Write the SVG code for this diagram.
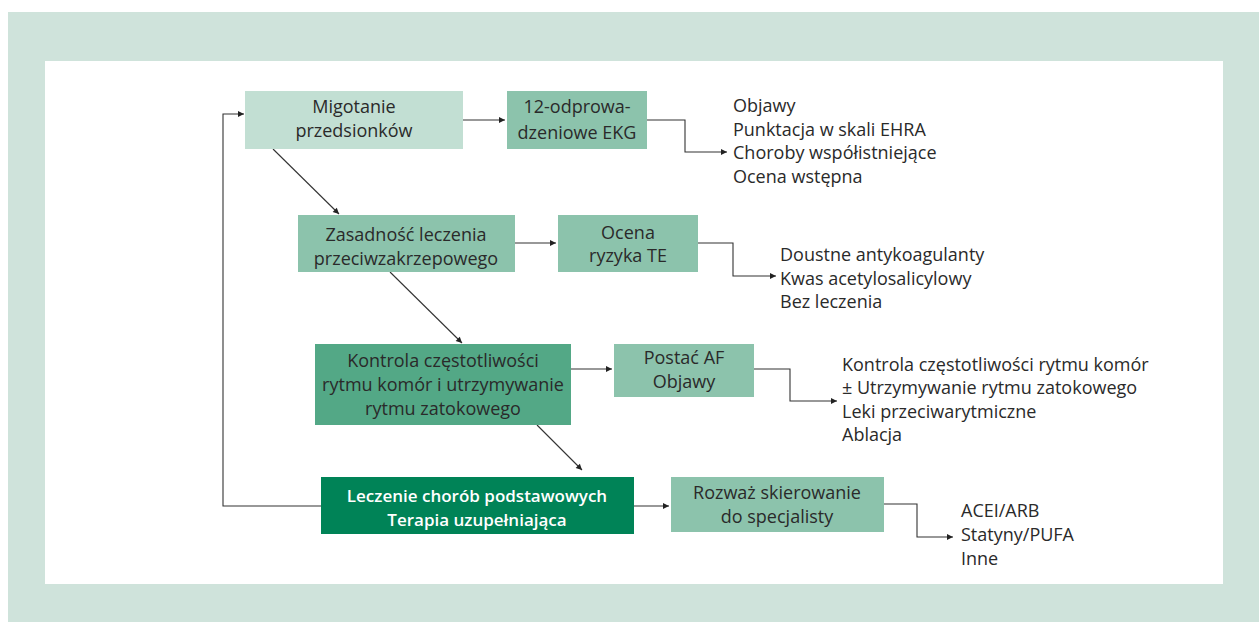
<svg xmlns="http://www.w3.org/2000/svg" width="1259" height="622" viewBox="0 0 1259 622">
<defs>
<style>
text{font-family:"Open Sans","Noto Sans","Liberation Sans",sans-serif;font-size:18px;fill:#2a2a2a}
.c{text-anchor:middle}
.w{fill:#ffffff;font-weight:600;font-size:17px}
.ln{fill:none;stroke:#333;stroke-width:1.1}
.l1{fill:#c2dfd3}
.l2{fill:#8cc3ac}
.l3{fill:#53a886}
.l4{fill:#008357}
</style>
<marker id="ah" viewBox="0 0 10 10" refX="10" refY="5" markerWidth="9" markerHeight="6" markerUnits="userSpaceOnUse" orient="auto">
<path d="M0,0 L10,5 L0,10 z" fill="#222"/>
</marker>
</defs>
<rect x="8" y="12" width="1251" height="610" fill="#cfe3db"/>
<rect x="45" y="61" width="1178" height="523" fill="#ffffff"/>

<g id="connectors">
<path class="ln" d="M463,120 H505" marker-end="url(#ah)"/>
<path class="ln" d="M647,120 H685 V152 H727" marker-end="url(#ah)"/>
<path class="ln" d="M273,149 L339,214" marker-end="url(#ah)"/>
<path class="ln" d="M515,243 H556" marker-end="url(#ah)"/>
<path class="ln" d="M698,243 H733 V276 H776" marker-end="url(#ah)"/>
<path class="ln" d="M390,272 L462,343" marker-end="url(#ah)"/>
<path class="ln" d="M571,369 H612" marker-end="url(#ah)"/>
<path class="ln" d="M754,369 H790 V401 H837" marker-end="url(#ah)"/>
<path class="ln" d="M537,425 L582,470" marker-end="url(#ah)"/>
<path class="ln" d="M634,506 H669" marker-end="url(#ah)"/>
<path class="ln" d="M884,504 H917 V537 H953" marker-end="url(#ah)"/>
<path class="ln" d="M321,506 H223 V114 H244" marker-end="url(#ah)"/>
</g>

<g id="n1">
<rect class="l1" x="245" y="91" width="218" height="58"/>
<text class="c" x="354" y="113">Migotanie</text>
<text class="c" x="354" y="137">przedsionków</text>
</g>
<g id="n2">
<rect class="l2" x="507" y="91" width="140" height="58"/>
<text class="c" x="577" y="113">12-odprowa-</text>
<text class="c" x="577" y="139">dzeniowe EKG</text>
</g>
<g id="n3">
<text x="733" y="112">Objawy</text>
<text x="733" y="136">Punktacja w skali EHRA</text>
<text x="733" y="159">Choroby współistniejące</text>
<text x="733" y="183">Ocena wstępna</text>
</g>
<g id="n4">
<rect class="l2" x="298" y="215" width="217" height="57"/>
<text class="c" x="406" y="241">Zasadność leczenia</text>
<text class="c" x="406" y="265">przeciwzakrzepowego</text>
</g>
<g id="n5">
<rect class="l2" x="558" y="215" width="140" height="57"/>
<text class="c" x="628" y="239">Ocena</text>
<text class="c" x="628" y="262">ryzyka TE</text>
</g>
<g id="n6">
<text x="780" y="261">Doustne antykoagulanty</text>
<text x="780" y="285">Kwas acetylosalicylowy</text>
<text x="780" y="308">Bez leczenia</text>
</g>
<g id="n7">
<rect class="l3" x="315" y="344" width="256" height="81"/>
<text class="c" x="443" y="367">Kontrola częstotliwości</text>
<text class="c" x="443" y="391">rytmu komór i utrzymywanie</text>
<text class="c" x="443" y="415">rytmu zatokowego</text>
</g>
<g id="n8">
<rect class="l2" x="614" y="344" width="140" height="53"/>
<text class="c" x="684" y="364">Postać AF</text>
<text class="c" x="684" y="388">Objawy</text>
</g>
<g id="n9">
<text x="842" y="371">Kontrola częstotliwości rytmu komór</text>
<text x="842" y="394">± Utrzymywanie rytmu zatokowego</text>
<text x="842" y="418">Leki przeciwarytmiczne</text>
<text x="842" y="441">Ablacja</text>
</g>
<g id="n10">
<rect class="l4" x="321" y="477" width="313" height="57"/>
<text class="c w" x="477" y="502">Leczenie chorób podstawowych</text>
<text class="c w" x="477" y="526">Terapia uzupełniająca</text>
</g>
<g id="n11">
<rect class="l2" x="671" y="477" width="213" height="55"/>
<text class="c" x="777" y="499">Rozważ skierowanie</text>
<text class="c" x="777" y="523">do specjalisty</text>
</g>
<g id="n12">
<text x="961" y="517">ACEI/ARB</text>
<text x="961" y="541">Statyny/PUFA</text>
<text x="961" y="565">Inne</text>
</g>
</svg>
